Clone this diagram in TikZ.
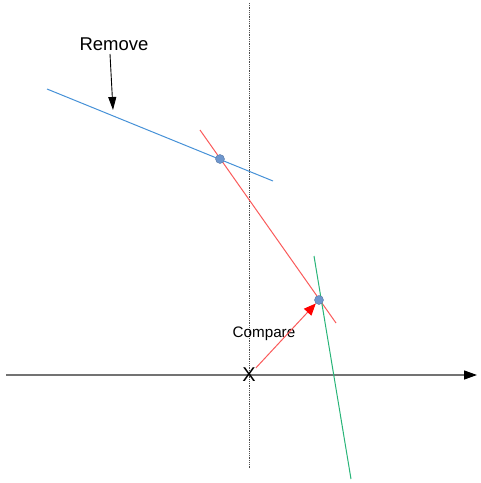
\documentclass[tikz,border=0pt]{standalone}
\usepackage{fontspec}
\setmainfont{Liberation Sans}
\usetikzlibrary{arrows.meta}
\definecolor{colFit}{RGB}{70,145,215}
\definecolor{colLink}{RGB}{250,90,90}
\definecolor{colTan}{RGB}{40,180,120}
\definecolor{colDot}{RGB}{110,150,205}

\begin{document}
\begin{tikzpicture}[x=1pt, y=-1pt, >=Triangle,
    dot/.style={circle, fill=colDot, draw=colDot!80!black, line width=0.4pt,
                minimum size=9pt, inner sep=0pt}]

\useasboundingbox (0,0) rectangle (481,483);

% Axes
\coordinate (xl) at (6,375);
\coordinate (xr) at (477,375);
\coordinate (yt) at (249,3);
\coordinate (yb) at (249,468);
\draw[black!55, line width=1.3pt, -{Triangle[length=13pt, width=9pt, black]}] (xl) -- (xr);
\draw[black!70, densely dotted, line width=0.8pt] (yt) -- (yb);

% Lignes
\coordinate (b1) at (47,89);
\coordinate (b2) at (273,181);
\coordinate (r1) at (200,130);
\coordinate (r2) at (336,323);
\coordinate (g1) at (314,256);
\coordinate (g2) at (351,479);
\draw[colFit, line width=1pt] (b1) -- (b2);
\draw[colLink, line width=1pt] (r1) -- (r2);
\draw[colTan, line width=1pt] (g1) -- (g2);

% Points
\node[dot] (p1) at (220,159) {};
\node[dot] (p2) at (319,300) {};

% Origine
\node[font=\fontsize{20}{20}\selectfont, inner sep=0pt] (orig) at (249,375) {X};

% Comparaison
\node[font=\fontsize{15.2}{15.2}\selectfont] (cmp) at (264,334) {Compare};
\draw[colLink, line width=1pt, -{Triangle[length=12pt, width=10pt, red]}]
    (orig.north east) -- (p2);

% Suppression
\node[font=\fontsize{18.5}{18.5}\selectfont] (rem) at (114,44) {Remove};
\coordinate (remtip) at (113,110);
\draw[black, line width=0.9pt, -{Triangle[length=13pt, width=8pt]}]
    (rem.south) ++(-4,0) -- (remtip);

\end{tikzpicture}
\end{document}
